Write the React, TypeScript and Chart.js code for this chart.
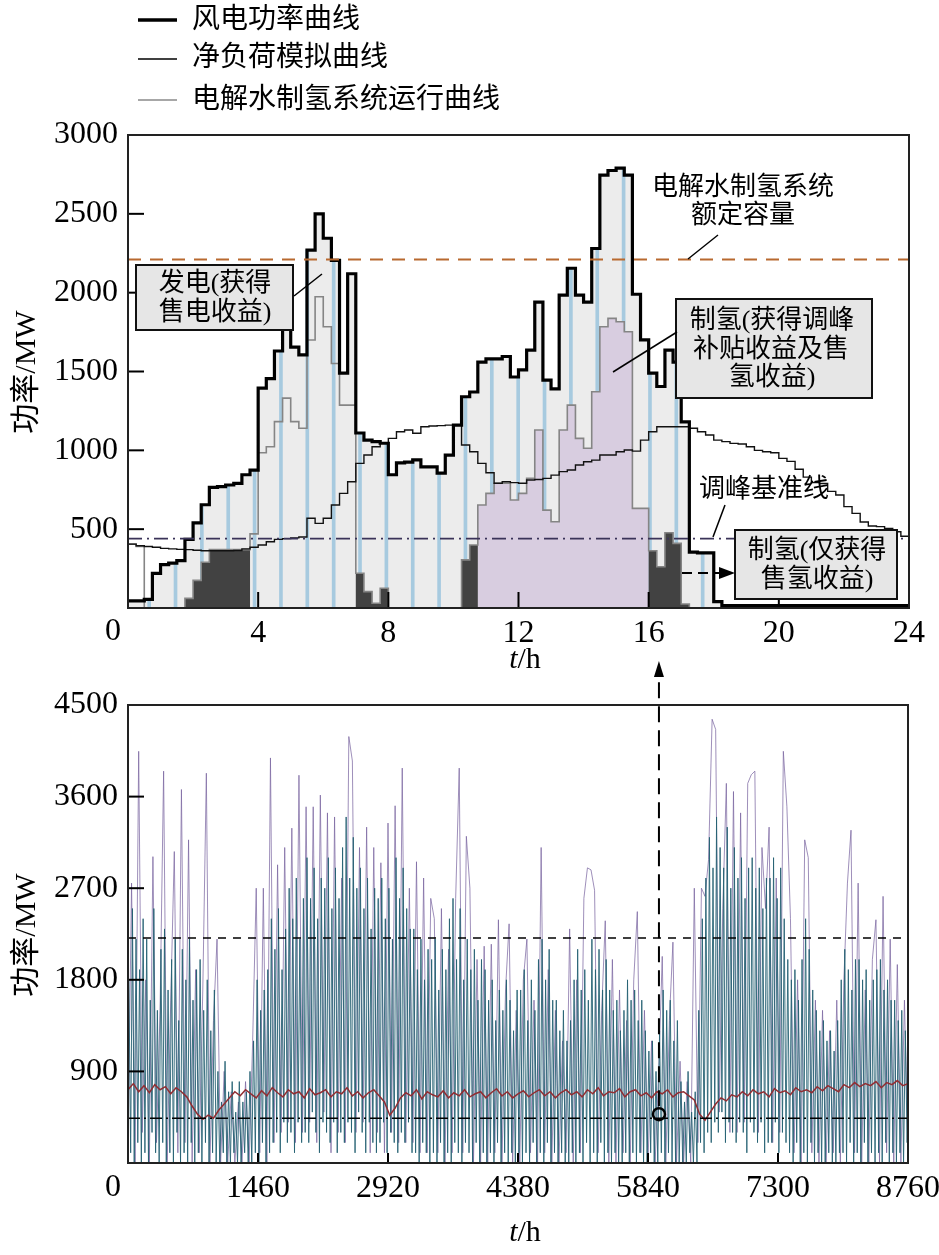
import React, { useEffect, useRef } from 'react';
import { Chart, registerables } from 'chart.js';

Chart.register(...registerables);

// ================= Top chart: typical day, 15-min steps =================
const dayStepHours = 0.25;
const dayTicksHours = [0, 4, 8, 12, 16, 20, 24];
const dayYTicks = [0, 500, 1000, 1500, 2000, 2500, 3000];

// 风电功率曲线 (MW), 96 quarter-hour values
const windPower = [
  45, 45, 55, 220, 275, 285, 300, 435, 540, 655, 765, 770, 780, 790, 845, 875,
  1395, 1455, 1630, 1800, 1655, 1605, 2270, 2500, 2345, 2205, 1490, 2120, 1110, 1065, 1055, 1045,
  845, 920, 925, 940, 895, 895, 855, 970, 1160, 1340, 1370, 1560, 1580, 1580, 1595, 1465,
  1510, 1635, 1940, 1445, 1390, 1985, 2155, 1985, 1940, 2280, 2745, 2775, 2790, 2745, 1990, 1700,
  1490, 1405, 1635, 1560, 1180, 355, 350, 350, 40, 15, 15, 15, 15, 15, 15, 15,
  15, 15, 15, 15, 15, 15, 15, 15, 15, 15, 15, 15, 15, 15, 15, 15,
];

// 净负荷模拟曲线 (MW)
const netLoad = [
  405, 395, 390, 385, 378, 375, 372, 370, 366, 363, 363, 363, 363, 365, 375, 385,
  400, 420, 435, 440, 445, 450, 569, 537, 569, 653, 727, 801, 917, 970, 1023, 1044,
  1076, 1118, 1129, 1108, 1150, 1154, 1157, 1160, 1160, 1034, 991, 917, 858, 791, 801, 795,
  791, 812, 815, 822, 843, 865, 875, 907, 928, 938, 970, 970, 991, 1002, 995, 1065,
  1118, 1150, 1150, 1150, 1150, 1140, 1118, 1097, 1065, 1055, 1044, 1040, 1023, 1000, 991, 985,
  949, 930, 880, 830, 795, 790, 740, 717, 643, 600, 545, 520, 516, 505, 484, 455,
];

// 电解水制氢系统运行曲线 (MW)
const electrolysis = [
  405, 390, 0, 0, 0, 0, 0, 61, 175, 290, 370, 370, 370, 370, 370, 470,
  985, 1023, 1182, 1331, 1182, 1140, 1700, 1974, 1784, 1551, 1287, 1287, 220, 104, 30, 125,
  0, 0, 0, 0, 0, 0, 0, 0, 0, 305, 400, 653, 727, 791, 791, 685,
  727, 823, 1129, 621, 547, 1129, 1287, 1076, 1013, 1372, 1784, 1837, 1816, 1752, 632, 632,
  363, 262, 477, 410, 25, 0, 0, 0, 0, 0, 0, 0, 0, 0, 0, 0,
  0, 0, 0, 0, 0, 0, 0, 0, 0, 0, 0, 0, 0, 0, 0, 0,
];

// time spans (h) of the two hydrogen production regimes
const hydrogenOnlySpans = [[1.75, 3.75], [7, 8], [10.25, 10.75], [16, 17.25]];
const peakShavingSpans = [[10.75, 16]];
// light-blue hatch lines (h)
const hatchHours = [0.65, 1.46, 2.27, 3.08, 3.89, 4.7, 5.51, 6.32, 7.13, 7.94, 8.75, 9.56, 10.37,
  11.18, 11.99, 12.8, 13.61, 14.42, 15.23, 16.04, 16.85, 17.66];
const ratedCapacity = 2210;
const peakBaseline = 440;

// ================= Bottom chart: full year, hourly =================
const yearTicks = [0, 1460, 2920, 4380, 5840, 7300, 8760];
const yearYTicks = [0, 900, 1800, 2700, 3600, 4500];
const windYearStep = 40;
const windYear = [
  100, 2750, 0, 4045, 300, 1800, 0, 3010, 200, 1500,
  3850, 0, 1600, 3060, 100, 3670, 200, 3175, 0, 1900,
  100, 1700, 3830, 0, 1400, 2200, 0, 900, 0, 700,
  0, 600, 0, 800, 0, 1200, 2700, 100, 2700, 0,
  3980, 200, 2930, 300, 3100, 400, 3290, 200, 3810, 300,
  3500, 400, 3500, 200, 3615, 500, 3440, 100, 3400, 300,
  2800, 200, 4190, 3950, 300, 3100, 400, 3300, 100, 3100,
  300, 2950, 100, 3340, 300, 3510, 200, 3880, 200, 2700,
  200, 2960, 100, 2800, 100, 2600, 2400, 100, 2500, 0,
  2100, 100, 2600, 3880, 100, 3210, 2700, 0, 2000, 0,
  2130, 0, 2150, 100, 2390, 0, 1700, 2350, 0, 1500,
  0, 1800, 2200, 100, 1600, 0, 3100, 100, 1900, 0,
  1500, 0, 1200, 100, 2300, 0, 1800, 100, 2600, 2900,
  2880, 2680, 100, 1500, 2380, 0, 2000, 0, 1700, 100,
  1400, 0, 1800, 2470, 100, 1500, 0, 1200, 0, 900,
  2030, 0, 1400, 2170, 0, 1000, 0, 800, 0, 2700,
  200, 2700, 2620, 2980, 4360, 4260, 500, 2500, 3730, 300,
  3650, 300, 3440, 400, 3730, 3815, 3850, 300, 3100, 2500,
  3300, 200, 2800, 300, 4045, 3500, 2400, 100, 1800, 0,
  3175, 3000, 100, 1600, 0, 1500, 0, 1300, 100, 1600,
  0, 1800, 2750, 3270, 100, 2750, 0, 1700, 0, 2000,
  2390, 0, 2620, 100, 2200, 0, 1950, 0, 1600, 100,
];
const h2YearStart = 10;
const h2YearStep = 20;
const h2Year = [
  1800, 100, 2500, 0, 2200, 200, 1900, 0, 2400, 100,
  2200, 0, 1600, 300, 2500, 100, 1500, 0, 2100, 200,
  2300, 0, 1700, 100, 2000, 0, 2200, 300, 1400, 0,
  2100, 100, 1800, 0, 2200, 200, 1600, 0, 1900, 100,
  2000, 0, 1500, 200, 1800, 0, 1300, 100, 1700, 0,
  900, 0, 600, 100, 1000, 0, 700, 0, 800, 100,
  500, 0, 800, 0, 600, 100, 700, 0, 900, 0,
  1200, 100, 1800, 0, 1500, 200, 1700, 0, 1900, 100,
  2400, 200, 2100, 300, 2500, 100, 1900, 400, 2300, 200,
  2700, 300, 2400, 100, 2800, 400, 2200, 200, 2600, 300,
  3000, 200, 2600, 500, 2900, 300, 2400, 100, 2800, 400,
  2700, 300, 3000, 200, 2500, 400, 2900, 100, 2600, 300,
  3100, 200, 3400, 400, 2800, 300, 3200, 100, 2700, 500,
  2900, 300, 2500, 100, 2800, 400, 2300, 200, 2700, 100,
  2600, 200, 2800, 400, 2400, 100, 2700, 300, 2200, 200,
  3000, 100, 2600, 300, 2900, 200, 2500, 400, 2300, 100,
  2300, 100, 1900, 0, 2200, 200, 1800, 100, 2100, 0,
  2000, 100, 2200, 0, 1700, 200, 2100, 0, 1900, 100,
  2400, 0, 2600, 200, 2000, 100, 2500, 0, 1800, 200,
  2200, 100, 1900, 0, 2100, 200, 1600, 0, 2000, 100,
  1900, 0, 1600, 100, 1800, 0, 1400, 200, 1700, 0,
  1500, 100, 1800, 0, 1600, 100, 1300, 0, 1700, 100,
  1700, 0, 1900, 100, 1400, 0, 1800, 200, 1500, 0,
  2000, 100, 2200, 0, 1800, 200, 2100, 0, 1600, 100,
  1600, 0, 1300, 100, 1500, 0, 1200, 0, 1400, 100,
  1800, 0, 2100, 100, 1700, 0, 1900, 200, 1600, 0,
  2200, 100, 1900, 0, 2100, 200, 1700, 0, 2000, 100,
  1700, 0, 1500, 100, 1600, 0, 1300, 0, 1500, 100,
  1800, 0, 1600, 100, 1700, 0, 1400, 100, 1600, 0,
  1300, 0, 1100, 100, 1200, 0, 900, 0, 1300, 100,
  1700, 0, 1500, 100, 1600, 0, 1200, 0, 1400, 0,
  800, 0, 600, 0, 900, 100, 500, 0, 700, 0,
  1500, 200, 2400, 100, 2800, 300, 3200, 200, 2900, 400,
  3400, 300, 3100, 500, 2900, 200, 3300, 400, 2700, 300,
  3100, 200, 2800, 400, 3000, 300, 2600, 100, 2900, 400,
  3000, 300, 2700, 200, 2900, 400, 2500, 100, 2800, 200,
  2800, 200, 3000, 400, 2600, 100, 2900, 300, 2400, 200,
  2000, 100, 1800, 0, 1900, 200, 1600, 0, 2000, 100,
  2400, 0, 2100, 200, 1700, 0, 1500, 100, 1300, 0,
  1400, 0, 1200, 100, 1300, 0, 1100, 0, 1400, 100,
  1800, 100, 2100, 0, 1900, 200, 1700, 0, 2000, 100,
  2000, 0, 1800, 200, 1900, 0, 1600, 100, 1800, 0,
  1900, 100, 2000, 0, 1700, 200, 1800, 0, 1600, 100,
  1600, 0, 1400, 100, 1500, 0, 1300, 200, 1200,
];
const netLoadYearStep = 60;
const netLoadYear = [
  720, 780, 700, 760, 690, 770, 720, 750, 680, 740, 700, 650,
  560, 480, 430, 470, 440, 520,
  580, 640, 700, 660, 720, 680,
  640, 710, 660, 740, 690, 650, 720, 680, 700, 640, 730, 670, 690, 720, 650, 700, 680, 740, 660, 700, 640, 690, 720, 660, 600,
  470, 540,
  640, 690, 660, 720, 630, 700, 670, 650, 710, 640, 690, 660, 720, 650, 680, 700, 640, 690, 730, 660, 700, 640, 680, 710, 650, 690, 720, 660, 700, 640, 690, 720, 670,
  700, 650, 720, 680, 740, 660, 700, 690, 730, 650, 700, 720, 660, 690, 640, 700, 680, 720, 650, 690, 700, 660, 620,
  480, 420, 500,
  580, 640, 610, 670, 650, 700, 660, 720, 680, 700, 650, 730, 690, 710, 670, 740, 700, 720, 690, 750, 710, 760, 730, 700, 770, 740, 790, 750, 780, 760, 800, 740, 790, 770, 810, 760, 780,
];
const markedHour = 5963;
const markedValue = 480;

// ================= helpers =================
const SERIF = '"Liberation Serif", "Noto Sans CJK SC", serif';
const fnt = (size: number, italic = false) => `${italic ? 'italic ' : ''}${size}px ${SERIF}`;

const stepSeries = (arr: number[]) => [
  ...arr.map((v, k) => ({ x: k * dayStepHours, y: v })),
  { x: arr.length * dayStepHours, y: arr[arr.length - 1] },
];
const masked = (arr: number[], spans: number[][]) =>
  arr.map((v, k) => {
    const t = k * dayStepHours;
    return spans.some(([a, b]) => t >= a - 1e-6 && t < b - 1e-6) ? v : 0;
  });
const windAt = (h: number) => windPower[Math.min(windPower.length - 1, Math.floor(h / dayStepHours))];

function drawTH(ctx: CanvasRenderingContext2D, cx: number, cy: number, size: number) {
  ctx.font = fnt(size, true);
  const wt = ctx.measureText('t').width;
  ctx.font = fnt(size);
  const wh = ctx.measureText('/h').width;
  const x0 = cx - (wt + wh) / 2;
  ctx.textAlign = 'left';
  ctx.textBaseline = 'middle';
  ctx.fillStyle = '#000';
  ctx.font = fnt(size, true);
  ctx.fillText('t', x0, cy);
  ctx.font = fnt(size);
  ctx.fillText('/h', x0 + wt, cy);
}

function drawYTitle(ctx: CanvasRenderingContext2D, cx: number, cy: number, size: number) {
  ctx.save();
  ctx.translate(cx, cy);
  ctx.rotate(-Math.PI / 2);
  ctx.font = fnt(size);
  ctx.fillStyle = '#000';
  ctx.textAlign = 'center';
  ctx.textBaseline = 'middle';
  ctx.fillText('功率/MW', 0, 0);
  ctx.restore();
}

function drawZero(ctx: CanvasRenderingContext2D, cx: number, cy: number) {
  ctx.font = fnt(32);
  ctx.fillStyle = '#000';
  ctx.textAlign = 'center';
  ctx.textBaseline = 'middle';
  ctx.fillText('0', cx, cy);
}

function line(ctx: CanvasRenderingContext2D, x0: number, y0: number, x1: number, y1: number, w = 1.5, color = '#000') {
  ctx.beginPath();
  ctx.moveTo(x0, y0);
  ctx.lineTo(x1, y1);
  ctx.lineWidth = w;
  ctx.strokeStyle = color;
  ctx.stroke();
}

function box(ctx: CanvasRenderingContext2D, x0: number, y0: number, x1: number, y1: number) {
  ctx.fillStyle = '#e6e6e6';
  ctx.fillRect(x0, y0, x1 - x0, y1 - y0);
  ctx.lineWidth = 2;
  ctx.strokeStyle = '#111';
  ctx.strokeRect(x0, y0, x1 - x0, y1 - y0);
}

function texts(ctx: CanvasRenderingContext2D, items: [string, number, number][], size = 26) {
  ctx.font = fnt(size);
  ctx.fillStyle = '#000';
  ctx.textAlign = 'center';
  ctx.textBaseline = 'middle';
  for (const [s, x, y] of items) ctx.fillText(s, x, y);
}

const topDecor = {
  id: 'topDecor',
  afterDatasetsDraw(chart: any) {
    const { ctx, chartArea: a, scales } = chart;
    const x = scales.x, y = scales.y;
    ctx.save();
    for (const v of dayYTicks) {
      if (v <= 0 || v >= 3000) continue;
      const py = y.getPixelForValue(v);
      line(ctx, a.left, py, a.left + 16, py, 2);
    }
    for (const v of dayTicksHours) {
      if (v <= 0 || v >= 24) continue;
      const px = x.getPixelForValue(v);
      line(ctx, px, a.bottom, px, a.bottom - 16, 2);
    }
    ctx.lineWidth = 2;
    ctx.strokeStyle = '#222';
    ctx.strokeRect(a.left, a.top, a.right - a.left, a.bottom - a.top);
    ctx.restore();
  },
  afterDraw(chart: any) {
    const { ctx } = chart;
    ctx.save();
    // legend
    line(ctx, 138, 20, 177, 20, 3.5, '#000');
    line(ctx, 138, 59, 177, 59, 1.6, '#000');
    line(ctx, 138, 100, 177, 100, 1.6, '#8a8a8a');
    ctx.font = fnt(28);
    ctx.fillStyle = '#000';
    ctx.textAlign = 'left';
    ctx.textBaseline = 'middle';
    ctx.fillText('风电功率曲线', 192, 21);
    ctx.fillText('净负荷模拟曲线', 192, 59);
    ctx.fillText('电解水制氢系统运行曲线', 192, 101);

    box(ctx, 136, 265, 293, 330);
    texts(ctx, [['发电(获得', 215, 284], ['售电收益)', 215, 313]]);
    line(ctx, 294, 296, 322, 274, 1.5);
    texts(ctx, [['电解水制氢系统', 743, 188], ['额定容量', 743, 216]]);
    line(ctx, 718, 235, 688, 259, 1.5);
    box(ctx, 676, 299, 872, 398);
    texts(ctx, [['制氢(获得调峰', 772, 321], ['补贴收益及售', 771, 350], ['氢收益)', 772, 378]]);
    line(ctx, 677, 332, 613, 372, 1.5);
    texts(ctx, [['调峰基准线', 764, 490]]);
    line(ctx, 725, 505, 713, 537, 1.5);
    ctx.setLineDash([10, 6]);
    line(ctx, 682, 573, 722, 573, 1.8);
    ctx.setLineDash([]);
    ctx.beginPath();
    ctx.moveTo(735, 573);
    ctx.lineTo(719, 567);
    ctx.lineTo(719, 579);
    ctx.closePath();
    ctx.fillStyle = '#000';
    ctx.fill();
    box(ctx, 735, 530, 897, 599);
    texts(ctx, [['制氢(仅获得', 817, 551], ['售氢收益)', 817, 580]]);

    drawZero(ctx, 113, 632);
    drawTH(ctx, 525, 660, 30);
    drawYTitle(ctx, 27, 372, 30);
    ctx.restore();
  },
};

const bottomDecor = {
  id: 'bottomDecor',
  afterDatasetsDraw(chart: any) {
    const { ctx, chartArea: a, scales } = chart;
    const x = scales.x, y = scales.y;
    ctx.save();
    for (const v of yearYTicks) {
      if (v <= 0 || v >= 4500) continue;
      const py = y.getPixelForValue(v);
      line(ctx, a.left, py, a.left + 16, py, 2);
    }
    for (const v of yearTicks) {
      if (v <= 0 || v >= 8760) continue;
      const px = x.getPixelForValue(v);
      line(ctx, px, a.bottom, px, a.bottom - 10, 2);
    }
    ctx.lineWidth = 2;
    ctx.strokeStyle = '#222';
    ctx.strokeRect(a.left, a.top, a.right - a.left, a.bottom - a.top);
    ctx.restore();
  },
  afterDraw(chart: any) {
    const { ctx, scales } = chart;
    const px = scales.x.getPixelForValue(markedHour);
    const py = scales.y.getPixelForValue(markedValue);
    ctx.save();
    ctx.setLineDash([16, 8]);
    line(ctx, px, py - 8, px, 36, 2);
    ctx.setLineDash([]);
    ctx.beginPath();
    ctx.moveTo(px, 21);
    ctx.lineTo(px - 5, 37);
    ctx.lineTo(px + 5, 37);
    ctx.closePath();
    ctx.fillStyle = '#000';
    ctx.fill();
    drawZero(ctx, 113, 1188 - 640);
    drawTH(ctx, 525, 1233 - 640, 30);
    drawYTitle(ctx, 27, 935 - 640, 30);
    ctx.restore();
  },
};

const tickFont = { family: SERIF, size: 32 };
const xLabel = (v: any) => (v === 0 ? '' : String(v));
const yLabel = (v: any) => (v === 0 ? '' : String(v));

export default function App() {
  const topRef = useRef<HTMLCanvasElement>(null);
  const botRef = useRef<HTMLCanvasElement>(null);

  useEffect(() => {
    document.body.style.margin = '0';
    const top = new Chart(topRef.current!, {
      type: 'line',
      data: {
        datasets: [
          { type: 'line', data: stepSeries(windPower), stepped: true, borderColor: '#000', borderWidth: 3.2, pointRadius: 0, fill: false, order: 3 },
          { type: 'line', data: stepSeries(netLoad), stepped: true, borderColor: '#111', borderWidth: 1.4, pointRadius: 0, fill: false, order: 4 },
          { type: 'line', data: stepSeries(electrolysis), stepped: true, borderColor: '#858585', borderWidth: 1.6, pointRadius: 0, fill: false, order: 5 },
          { type: 'line', data: [{ x: 0, y: ratedCapacity }, { x: 24, y: ratedCapacity }], borderColor: '#b8692f', borderDash: [13, 9], borderWidth: 2, pointRadius: 0, fill: false, order: 2 },
          { type: 'line', data: [{ x: 0, y: peakBaseline }, { x: 24, y: peakBaseline }], borderColor: '#3a3358', borderDash: [14, 5, 2, 5], borderWidth: 1.6, pointRadius: 0, fill: false, order: 2 },
          { type: 'line', data: stepSeries(masked(electrolysis, hydrogenOnlySpans)), stepped: true, borderColor: 'transparent', borderWidth: 0, pointRadius: 0, fill: 'origin', backgroundColor: '#424242', order: 7 },
          { type: 'line', data: stepSeries(masked(electrolysis, peakShavingSpans)), stepped: true, borderColor: 'transparent', borderWidth: 0, pointRadius: 0, fill: 'origin', backgroundColor: '#d8cde0', order: 8 },
          { type: 'bar', data: hatchHours.map((h) => ({ x: h, y: windAt(h) })), backgroundColor: 'rgba(160,198,222,0.9)', barThickness: 3, order: 9 },
          { type: 'line', data: stepSeries(windPower), stepped: true, borderColor: 'transparent', borderWidth: 0, pointRadius: 0, fill: 'origin', backgroundColor: '#ececec', order: 10 },
        ],
      },
      options: {
        responsive: false,
        animation: false,
        events: [],
        layout: { padding: { top: 135, right: 30, left: 0, bottom: 0 } },
        plugins: { legend: { display: false }, tooltip: { enabled: false } },
        scales: {
          x: {
            type: 'linear', min: 0, max: 24, offset: false,
            afterBuildTicks: (s: any) => { s.ticks = dayTicksHours.map((v) => ({ value: v })); },
            afterFit: (s: any) => { s.height = 82; s.paddingLeft = 0; s.paddingRight = 0; },
            ticks: { font: tickFont, color: '#000', padding: 6, maxRotation: 0, autoSkip: false, callback: xLabel },
            grid: { display: false, drawTicks: false },
            border: { display: false },
          },
          y: {
            type: 'linear', min: 0, max: 3000,
            afterBuildTicks: (s: any) => { s.ticks = dayYTicks.map((v) => ({ value: v })); },
            afterFit: (s: any) => { s.width = 128; s.paddingTop = 0; s.paddingBottom = 0; },
            ticks: { font: tickFont, color: '#000', padding: 10, callback: yLabel },
            grid: { display: false, drawTicks: false },
            border: { display: false },
          },
        },
      },
      plugins: [topDecor],
    } as any);

    const bot = new Chart(botRef.current!, {
      type: 'line',
      data: {
        datasets: [
          { data: windYear.map((v, i) => ({ x: i * windYearStep, y: v })), borderColor: 'rgba(120,100,160,0.72)', borderWidth: 1, pointRadius: 0, fill: false, order: 5 },
          { data: h2Year.map((v, i) => ({ x: h2YearStart + i * h2YearStep, y: v })), borderColor: 'rgba(38,98,115,0.9)', borderWidth: 1, pointRadius: 0, fill: false, order: 4 },
          { data: netLoadYear.map((v, i) => ({ x: i * netLoadYearStep, y: v })), borderColor: 'rgb(145,45,50)', borderWidth: 1.5, pointRadius: 0, fill: false, order: 3 },
          { data: [{ x: 0, y: ratedCapacity }, { x: 8760, y: ratedCapacity }], borderColor: '#000', borderDash: [8, 7], borderWidth: 1.5, pointRadius: 0, fill: false, order: 1 },
          { data: [{ x: 0, y: peakBaseline }, { x: 8760, y: peakBaseline }], borderColor: '#000', borderDash: [12, 4, 2, 4], borderWidth: 1.5, pointRadius: 0, fill: false, order: 1 },
          { data: [{ x: markedHour, y: markedValue }], showLine: false, pointRadius: 6, pointBorderWidth: 2.5, pointBorderColor: '#000', pointBackgroundColor: 'rgba(0,0,0,0)', order: 0 },
        ],
      },
      options: {
        responsive: false,
        animation: false,
        events: [],
        layout: { padding: { top: 65, right: 31, left: 0, bottom: 0 } },
        plugins: { legend: { display: false }, tooltip: { enabled: false } },
        scales: {
          x: {
            type: 'linear', min: 0, max: 8760, offset: false,
            afterBuildTicks: (s: any) => { s.ticks = yearTicks.map((v) => ({ value: v })); },
            afterFit: (s: any) => { s.height = 92; s.paddingLeft = 0; s.paddingRight = 0; },
            ticks: { font: tickFont, color: '#000', padding: 6, maxRotation: 0, autoSkip: false, callback: xLabel },
            grid: { display: false, drawTicks: false },
            border: { display: false },
          },
          y: {
            type: 'linear', min: 0, max: 4500,
            afterBuildTicks: (s: any) => { s.ticks = yearYTicks.map((v) => ({ value: v })); },
            afterFit: (s: any) => { s.width = 128; s.paddingTop = 0; s.paddingBottom = 0; },
            ticks: { font: tickFont, color: '#000', padding: 10, callback: yLabel },
            grid: { display: false, drawTicks: false },
            border: { display: false },
          },
        },
      },
      plugins: [bottomDecor],
    } as any);

    return () => {
      top.destroy();
      bot.destroy();
    };
  }, []);

  return (
    <div style={{ position: 'absolute', left: 0, top: 0, width: 939, height: 1255, background: '#fff' }}>
      <canvas ref={topRef} width={939} height={690} style={{ position: 'absolute', left: 0, top: 0 }} />
      <canvas ref={botRef} width={939} height={615} style={{ position: 'absolute', left: 0, top: 640 }} />
    </div>
  );
}
